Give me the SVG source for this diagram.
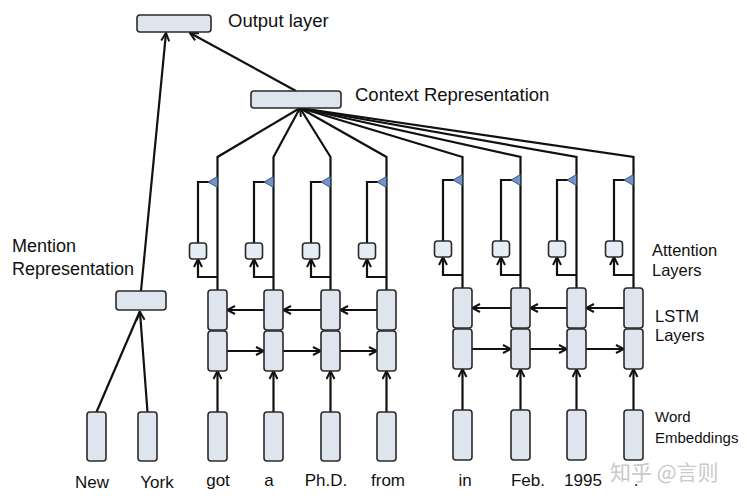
<svg xmlns="http://www.w3.org/2000/svg" width="747" height="504" viewBox="0 0 747 504">
<style>
.box{fill:#dfe5ee;stroke:#2a2a2a;stroke-width:1.6}
.att{fill:#e6edf6;stroke:#2a2a2a;stroke-width:1.6}
.ln{fill:none;stroke:#111;stroke-width:2.2}
.ar{marker-end:url(#ah)}
.tri{fill:#6f95cc;stroke:#2a3a55;stroke-width:0.8}
.lbl{font-family:"Liberation Sans",Arial,sans-serif;font-size:18.5px;fill:#111}
.men{font-family:"Liberation Sans",Arial,sans-serif;font-size:18px;fill:#111}
.side{font-family:"Liberation Sans",Arial,sans-serif;font-size:16.5px;fill:#111}
.emb{font-family:"Liberation Sans",Arial,sans-serif;font-size:15px;fill:#111}
.wd{font-family:"Liberation Sans",Arial,sans-serif;font-size:17px;fill:#111;text-anchor:middle}
.wm{font-family:"Noto Sans CJK SC","Liberation Sans",sans-serif;font-size:21px;fill:#c9c9c9}
</style>
<defs>
<marker id="ah" viewBox="0 0 10 10" refX="9" refY="5" markerWidth="10" markerHeight="10" markerUnits="userSpaceOnUse" orient="auto">
<path d="M1,1 L9,5 L1,9" fill="none" stroke="#111" stroke-width="2"/>
</marker>
</defs>
<rect width="747" height="504" fill="#fff"/>

<g id="connectors">
<path class="ln ar" d="M296,91 L190,33"/>
<path class="ln ar" d="M141,291 L166,33"/>
<path class="ln" d="M96.5,412 L140,311"/>
<path class="ln ar" d="M147.5,412 L140,312"/>
<path class="ln" d="M217.5,290 V157 L300,108"/>
<path class="ln" d="M273.5,290 V157 L300,108"/>
<path class="ln ar" d="M330.5,290 V157 L300,108"/>
<path class="ln" d="M386.5,290 V157 L300,108"/>
<path class="ln" d="M462.5,288 V157 L300,108"/>
<path class="ln" d="M520.5,288 V157 L300,108"/>
<path class="ln" d="M576.5,288 V157 L300,108"/>
<path class="ln" d="M633.5,288 V157 L300,108"/>
<path class="ln ar" d="M217.5,277 H198 V259"/>
<path class="ln ar" d="M273.5,277 H254 V259"/>
<path class="ln ar" d="M330.5,277 H311 V259"/>
<path class="ln ar" d="M386.5,277 H367 V259"/>
<path class="ln ar" d="M462.5,275 H443 V257"/>
<path class="ln ar" d="M520.5,275 H501 V257"/>
<path class="ln ar" d="M576.5,275 H557 V257"/>
<path class="ln ar" d="M633.5,275 H614 V257"/>
<path class="ln" d="M198,243 V182 H209"/>
<path class="ln" d="M254,243 V182 H265"/>
<path class="ln" d="M311,243 V182 H322"/>
<path class="ln" d="M367,243 V182 H378"/>
<path class="ln" d="M443,241 V180 H454"/>
<path class="ln" d="M501,241 V180 H512"/>
<path class="ln" d="M557,241 V180 H568"/>
<path class="ln" d="M614,241 V180 H625"/>
<path class="ln ar" d="M217.5,412 V371"/>
<path class="ln ar" d="M273.5,412 V371"/>
<path class="ln ar" d="M330.5,412 V371"/>
<path class="ln ar" d="M386.5,412 V371"/>
<path class="ln ar" d="M462.5,410 V369"/>
<path class="ln ar" d="M520.5,410 V369"/>
<path class="ln ar" d="M576.5,410 V369"/>
<path class="ln ar" d="M633.5,410 V369"/>
<path class="ln ar" d="M264,310 H227"/>
<path class="ln ar" d="M321,310 H283"/>
<path class="ln ar" d="M377,310 H340"/>
<path class="ln ar" d="M511,308 H472"/>
<path class="ln ar" d="M567,308 H530"/>
<path class="ln ar" d="M624,308 H586"/>
<path class="ln ar" d="M227,351 H264"/>
<path class="ln ar" d="M283,351 H321"/>
<path class="ln ar" d="M340,351 H377"/>
<path class="ln ar" d="M472,349 H511"/>
<path class="ln ar" d="M530,349 H567"/>
<path class="ln ar" d="M586,349 H624"/>
</g>

<g id="gates">
<polygon class="tri" points="208,182 217.5,176.5 217.5,187.5"/>
<polygon class="tri" points="264,182 273.5,176.5 273.5,187.5"/>
<polygon class="tri" points="321,182 330.5,176.5 330.5,187.5"/>
<polygon class="tri" points="377,182 386.5,176.5 386.5,187.5"/>
<polygon class="tri" points="453,180 462.5,174.5 462.5,185.5"/>
<polygon class="tri" points="511,180 520.5,174.5 520.5,185.5"/>
<polygon class="tri" points="567,180 576.5,174.5 576.5,185.5"/>
<polygon class="tri" points="624,180 633.5,174.5 633.5,185.5"/>
</g>

<g id="output-layer">
<rect class="box" x="137" y="15" width="74" height="17" rx="3"/>
<text class="lbl" x="228" y="27">Output layer</text>
</g>
<g id="context-representation">
<rect class="box" x="251" y="91" width="90" height="17" rx="3"/>
<text class="lbl" x="355" y="101">Context Representation</text>
</g>
<g id="mention-representation">
<rect class="box" x="116" y="291" width="50" height="19" rx="3"/>
<text class="men" x="12" y="252">Mention</text>
<text class="men" x="12" y="275">Representation</text>
</g>

<g id="attention-layers">
<rect class="att" x="189.5" y="243" width="17" height="16" rx="3"/>
<rect class="att" x="245.5" y="243" width="17" height="16" rx="3"/>
<rect class="att" x="302.5" y="243" width="17" height="16" rx="3"/>
<rect class="att" x="358.5" y="243" width="17" height="16" rx="3"/>
<rect class="att" x="434.5" y="241" width="17" height="16" rx="3"/>
<rect class="att" x="492.5" y="241" width="17" height="16" rx="3"/>
<rect class="att" x="548.5" y="241" width="17" height="16" rx="3"/>
<rect class="att" x="605.5" y="241" width="17" height="16" rx="3"/>
<text class="side" x="652" y="256">Attention</text>
<text class="side" x="652" y="276">Layers</text>
</g>

<g id="lstm-layers">
<rect class="box" x="208" y="290" width="19" height="40" rx="3"/>
<rect class="box" x="208" y="331" width="19" height="40" rx="3"/>
<rect class="box" x="264" y="290" width="19" height="40" rx="3"/>
<rect class="box" x="264" y="331" width="19" height="40" rx="3"/>
<rect class="box" x="321" y="290" width="19" height="40" rx="3"/>
<rect class="box" x="321" y="331" width="19" height="40" rx="3"/>
<rect class="box" x="377" y="290" width="19" height="40" rx="3"/>
<rect class="box" x="377" y="331" width="19" height="40" rx="3"/>
<rect class="box" x="453" y="288" width="19" height="40" rx="3"/>
<rect class="box" x="453" y="329" width="19" height="40" rx="3"/>
<rect class="box" x="511" y="288" width="19" height="40" rx="3"/>
<rect class="box" x="511" y="329" width="19" height="40" rx="3"/>
<rect class="box" x="567" y="288" width="19" height="40" rx="3"/>
<rect class="box" x="567" y="329" width="19" height="40" rx="3"/>
<rect class="box" x="624" y="288" width="19" height="40" rx="3"/>
<rect class="box" x="624" y="329" width="19" height="40" rx="3"/>
<text class="side" x="655" y="322">LSTM</text>
<text class="side" x="655" y="341">Layers</text>
</g>

<g id="word-embeddings">
<rect class="box" x="87" y="412" width="19" height="49" rx="3"/>
<rect class="box" x="138" y="412" width="19" height="49" rx="3"/>
<rect class="box" x="208" y="412" width="19" height="49" rx="3"/>
<rect class="box" x="264" y="412" width="19" height="49" rx="3"/>
<rect class="box" x="321" y="412" width="19" height="49" rx="3"/>
<rect class="box" x="377" y="412" width="19" height="49" rx="3"/>
<rect class="box" x="453" y="410" width="19" height="50" rx="3"/>
<rect class="box" x="511" y="410" width="19" height="50" rx="3"/>
<rect class="box" x="567" y="410" width="19" height="50" rx="3"/>
<rect class="box" x="624" y="410" width="19" height="50" rx="3"/>
<text class="emb" x="655" y="422">Word</text>
<text class="emb" x="655" y="443">Embeddings</text>
</g>

<g id="words">
<text class="wd" x="92" y="488">New</text>
<text class="wd" x="157" y="488">York</text>
<text class="wd" x="218" y="486">got</text>
<text class="wd" x="269" y="486">a</text>
<text class="wd" x="326" y="486">Ph.D.</text>
<text class="wd" x="388" y="486">from</text>
<text class="wd" x="465" y="486">in</text>
<text class="wd" x="528" y="486">Feb.</text>
<text class="wd" x="583" y="486">1995</text>
<text class="wd" x="636" y="486">.</text>
</g>

<text class="wm" x="610" y="480">知乎 @言则</text>
</svg>
